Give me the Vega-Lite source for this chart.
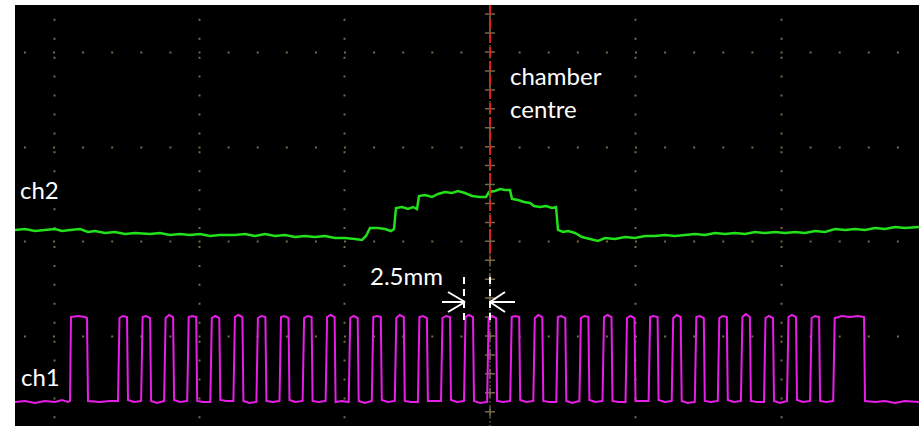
{
  "$schema": "https://vega.github.io/schema/vega-lite/v6.json",
  "autosize": {"type": "none"},
  "width": 904,
  "height": 421,
  "padding": {"left": 15, "top": 5, "right": 0, "bottom": 0},
  "background": "#ffffff",
  "config": {"view": {"fill": "#000000", "stroke": null}},
  "datasets": {
    "ch2": [
      {"x": -475, "v": 196}, {"x": -465, "v": 197}, {"x": -455, "v": 195}, {"x": -445, "v": 196}, {"x": -435, "v": 197}, {"x": -428, "v": 195}, {"x": -420, "v": 196}, {"x": -410, "v": 197}, {"x": -402, "v": 194}, {"x": -395, "v": 195}, {"x": -385, "v": 193}, {"x": -375, "v": 194}, {"x": -365, "v": 192}, {"x": -355, "v": 193}, {"x": -340, "v": 192}, {"x": -330, "v": 193}, {"x": -320, "v": 191}, {"x": -310, "v": 192}, {"x": -300, "v": 191}, {"x": -290, "v": 192}, {"x": -280, "v": 190}, {"x": -270, "v": 191}, {"x": -255, "v": 191}, {"x": -245, "v": 192}, {"x": -235, "v": 190}, {"x": -225, "v": 192}, {"x": -215, "v": 190}, {"x": -205, "v": 191}, {"x": -195, "v": 189}, {"x": -185, "v": 190}, {"x": -175, "v": 189}, {"x": -165, "v": 190}, {"x": -155, "v": 188}, {"x": -145, "v": 188}, {"x": -135, "v": 187}, {"x": -128, "v": 186}, {"x": -124, "v": 190}, {"x": -120, "v": 198}, {"x": -112, "v": 198}, {"x": -105, "v": 197}, {"x": -99, "v": 195}, {"x": -96, "v": 197}, {"x": -94, "v": 218}, {"x": -88, "v": 219}, {"x": -82, "v": 217}, {"x": -77, "v": 219}, {"x": -73, "v": 217}, {"x": -71, "v": 230}, {"x": -65, "v": 231}, {"x": -58, "v": 229}, {"x": -52, "v": 232}, {"x": -45, "v": 234}, {"x": -38, "v": 233}, {"x": -32, "v": 235}, {"x": -25, "v": 233}, {"x": -18, "v": 230}, {"x": -10, "v": 229}, {"x": -4, "v": 229}, {"x": -1, "v": 234}, {"x": 5, "v": 235}, {"x": 10, "v": 237}, {"x": 15, "v": 236}, {"x": 20, "v": 236}, {"x": 22, "v": 227}, {"x": 28, "v": 226}, {"x": 34, "v": 224}, {"x": 40, "v": 223}, {"x": 44, "v": 220}, {"x": 50, "v": 219}, {"x": 56, "v": 220}, {"x": 62, "v": 218}, {"x": 66, "v": 219}, {"x": 68, "v": 196}, {"x": 73, "v": 194}, {"x": 78, "v": 195}, {"x": 85, "v": 193}, {"x": 92, "v": 189}, {"x": 100, "v": 187}, {"x": 108, "v": 185}, {"x": 115, "v": 188}, {"x": 125, "v": 187}, {"x": 135, "v": 189}, {"x": 145, "v": 188}, {"x": 155, "v": 190}, {"x": 165, "v": 190}, {"x": 175, "v": 191}, {"x": 185, "v": 190}, {"x": 195, "v": 191}, {"x": 205, "v": 192}, {"x": 215, "v": 191}, {"x": 225, "v": 193}, {"x": 235, "v": 192}, {"x": 245, "v": 193}, {"x": 255, "v": 192}, {"x": 265, "v": 194}, {"x": 275, "v": 193}, {"x": 285, "v": 194}, {"x": 295, "v": 193}, {"x": 305, "v": 194}, {"x": 315, "v": 193}, {"x": 325, "v": 195}, {"x": 335, "v": 194}, {"x": 345, "v": 197}, {"x": 355, "v": 196}, {"x": 365, "v": 197}, {"x": 375, "v": 196}, {"x": 385, "v": 198}, {"x": 395, "v": 197}, {"x": 405, "v": 199}, {"x": 415, "v": 198}, {"x": 429, "v": 199}
    ],
    "ch1": [
      {"x": -475, "v": 24}, {"x": -465, "v": 25}, {"x": -455, "v": 23}, {"x": -445, "v": 25}, {"x": -435, "v": 24}, {"x": -428, "v": 26}, {"x": -422, "v": 24},
      {"x": -420, "v": 25}, {"x": -419, "v": 109}, {"x": -412, "v": 110}, {"x": -405, "v": 109}, {"x": -403, "v": 108}, {"x": -402, "v": 25}, {"x": -390, "v": 24}, {"x": -380, "v": 25},
      {"x": -372, "v": 25}, {"x": -370.5, "v": 108}, {"x": -367, "v": 110}, {"x": -363, "v": 109}, {"x": -362, "v": 26}, {"x": -356, "v": 24},
      {"x": -348.9, "v": 25}, {"x": -347.4, "v": 109}, {"x": -343.9, "v": 110}, {"x": -339.9, "v": 108}, {"x": -338.9, "v": 25}, {"x": -332.9, "v": 23},
      {"x": -325.9, "v": 25}, {"x": -324.4, "v": 108}, {"x": -320.9, "v": 111}, {"x": -316.9, "v": 109}, {"x": -315.9, "v": 26}, {"x": -309.9, "v": 24},
      {"x": -302.8, "v": 25}, {"x": -301.3, "v": 109}, {"x": -297.8, "v": 110}, {"x": -293.8, "v": 109}, {"x": -292.8, "v": 25}, {"x": -286.8, "v": 24},
      {"x": -279.7, "v": 24}, {"x": -278.2, "v": 108}, {"x": -274.7, "v": 110}, {"x": -270.7, "v": 108}, {"x": -269.7, "v": 26}, {"x": -263.7, "v": 25},
      {"x": -256.6, "v": 25}, {"x": -255.1, "v": 109}, {"x": -251.6, "v": 111}, {"x": -247.6, "v": 109}, {"x": -246.6, "v": 25}, {"x": -240.6, "v": 23},
      {"x": -233.6, "v": 24}, {"x": -232.1, "v": 108}, {"x": -228.6, "v": 110}, {"x": -224.6, "v": 109}, {"x": -223.6, "v": 25}, {"x": -217.6, "v": 24},
      {"x": -210.5, "v": 25}, {"x": -209, "v": 109}, {"x": -205.5, "v": 110}, {"x": -201.5, "v": 108}, {"x": -200.5, "v": 26}, {"x": -194.5, "v": 24},
      {"x": -187.4, "v": 25}, {"x": -185.9, "v": 108}, {"x": -182.4, "v": 110}, {"x": -178.4, "v": 109}, {"x": -177.4, "v": 25}, {"x": -171.4, "v": 24},
      {"x": -164.4, "v": 25}, {"x": -162.9, "v": 109}, {"x": -159.4, "v": 111}, {"x": -155.4, "v": 109}, {"x": -154.4, "v": 24}, {"x": -148.4, "v": 25},
      {"x": -141.3, "v": 24}, {"x": -139.8, "v": 108}, {"x": -136.3, "v": 110}, {"x": -132.3, "v": 108}, {"x": -131.3, "v": 25}, {"x": -125.3, "v": 23},
      {"x": -118.2, "v": 25}, {"x": -116.7, "v": 109}, {"x": -113.2, "v": 110}, {"x": -109.2, "v": 109}, {"x": -108.2, "v": 26}, {"x": -102.2, "v": 24},
      {"x": -95.2, "v": 25}, {"x": -93.7, "v": 108}, {"x": -90.2, "v": 111}, {"x": -86.2, "v": 109}, {"x": -85.2, "v": 25}, {"x": -79.2, "v": 24},
      {"x": -72.1, "v": 24}, {"x": -70.6, "v": 109}, {"x": -67.1, "v": 110}, {"x": -63.1, "v": 108}, {"x": -62.1, "v": 25}, {"x": -56.1, "v": 25},
      {"x": -49, "v": 25}, {"x": -47.5, "v": 108}, {"x": -44, "v": 110}, {"x": -40, "v": 109}, {"x": -39, "v": 26}, {"x": -33, "v": 24},
      {"x": -26, "v": 25}, {"x": -24.5, "v": 109}, {"x": -21, "v": 111}, {"x": -17, "v": 109}, {"x": -16, "v": 25}, {"x": -10, "v": 23},
      {"x": -2.9, "v": 24}, {"x": -1.4, "v": 108}, {"x": 2.1, "v": 110}, {"x": 6.1, "v": 108}, {"x": 7.1, "v": 25}, {"x": 13.1, "v": 24},
      {"x": 20.2, "v": 25}, {"x": 21.7, "v": 109}, {"x": 25.2, "v": 110}, {"x": 29.2, "v": 109}, {"x": 30.2, "v": 26}, {"x": 36.2, "v": 24},
      {"x": 43.3, "v": 25}, {"x": 44.8, "v": 108}, {"x": 48.3, "v": 111}, {"x": 52.3, "v": 109}, {"x": 53.3, "v": 25}, {"x": 59.3, "v": 24},
      {"x": 66.3, "v": 24}, {"x": 67.8, "v": 109}, {"x": 71.3, "v": 110}, {"x": 75.3, "v": 108}, {"x": 76.3, "v": 25}, {"x": 82.3, "v": 23},
      {"x": 89.4, "v": 25}, {"x": 90.9, "v": 108}, {"x": 94.4, "v": 110}, {"x": 98.4, "v": 109}, {"x": 99.4, "v": 26}, {"x": 105.4, "v": 24},
      {"x": 112.5, "v": 25}, {"x": 114, "v": 109}, {"x": 117.5, "v": 111}, {"x": 121.5, "v": 109}, {"x": 122.5, "v": 25}, {"x": 128.5, "v": 24},
      {"x": 135.5, "v": 24}, {"x": 137, "v": 108}, {"x": 140.5, "v": 110}, {"x": 144.5, "v": 108}, {"x": 145.5, "v": 25}, {"x": 151.5, "v": 25},
      {"x": 158.6, "v": 25}, {"x": 160.1, "v": 109}, {"x": 163.6, "v": 110}, {"x": 167.6, "v": 109}, {"x": 168.6, "v": 26}, {"x": 174.6, "v": 24},
      {"x": 181.7, "v": 25}, {"x": 183.2, "v": 108}, {"x": 186.7, "v": 111}, {"x": 190.7, "v": 109}, {"x": 191.7, "v": 25}, {"x": 197.7, "v": 23},
      {"x": 204.8, "v": 24}, {"x": 206.3, "v": 109}, {"x": 209.8, "v": 110}, {"x": 213.8, "v": 108}, {"x": 214.8, "v": 25}, {"x": 220.8, "v": 24},
      {"x": 227.8, "v": 25}, {"x": 229.3, "v": 108}, {"x": 232.8, "v": 110}, {"x": 236.8, "v": 109}, {"x": 237.8, "v": 26}, {"x": 243.8, "v": 24},
      {"x": 250.9, "v": 25}, {"x": 252.4, "v": 109}, {"x": 255.9, "v": 112}, {"x": 259.9, "v": 109}, {"x": 260.9, "v": 25}, {"x": 266.9, "v": 24},
      {"x": 274, "v": 24}, {"x": 275.5, "v": 108}, {"x": 279, "v": 110}, {"x": 283, "v": 108}, {"x": 284, "v": 25}, {"x": 290, "v": 23},
      {"x": 297, "v": 25}, {"x": 298.5, "v": 109}, {"x": 302, "v": 111}, {"x": 306, "v": 109}, {"x": 307, "v": 26}, {"x": 313, "v": 24},
      {"x": 320.1, "v": 25}, {"x": 321.6, "v": 108}, {"x": 325.1, "v": 110}, {"x": 329.1, "v": 109}, {"x": 330.1, "v": 25}, {"x": 336.1, "v": 24},
      {"x": 343.2, "v": 25}, {"x": 344.7, "v": 108}, {"x": 352, "v": 110}, {"x": 360, "v": 109}, {"x": 368, "v": 110}, {"x": 374, "v": 109}, {"x": 375, "v": 25},
      {"x": 385, "v": 24}, {"x": 395, "v": 25}, {"x": 405, "v": 23}, {"x": 415, "v": 25}, {"x": 429, "v": 24}
    ],
    "crosses": [
      {"x": 0, "v": 411.9}, {"x": 0, "v": 392.9}, {"x": 0, "v": 374}, {"x": 0, "v": 355.1}, {"x": 0, "v": 336.1}, {"x": 0, "v": 317.2}, {"x": 0, "v": 298.3}, {"x": 0, "v": 279.3}, {"x": 0, "v": 260.4}, {"x": 0, "v": 241.5}, {"x": 0, "v": 222.5}, {"x": 0, "v": 203.6}, {"x": 0, "v": 184.7}, {"x": 0, "v": 165.8}, {"x": 0, "v": 146.8}, {"x": 0, "v": 127.9}, {"x": 0, "v": 109}, {"x": 0, "v": 90}, {"x": 0, "v": 71.1}, {"x": 0, "v": 52.2}, {"x": 0, "v": 33.2}, {"x": 0, "v": 14.3}
    ],
    "markers": [
      {"x": -26, "v": 149, "v2": 104},
      {"x": 0, "v": 149, "v2": 104}
    ],
    "arrows": [
      {"x": -48, "v": 124, "x2": -25, "v2": 124},
      {"x": -42, "v": 134, "x2": -25, "v2": 124},
      {"x": -42, "v": 114, "x2": -25, "v2": 124},
      {"x": 0, "v": 124, "x2": 25, "v2": 124},
      {"x": 15, "v": 134, "x2": 0, "v2": 124},
      {"x": 15, "v": 114, "x2": 0, "v2": 124}
    ],
    "labels": [
      {"x": 20, "v": 341, "label": "chamber"},
      {"x": 20, "v": 308, "label": "centre"},
      {"x": -470, "v": 227, "label": "ch2"},
      {"x": -469, "v": 40, "label": "ch1"},
      {"x": -120, "v": 141, "label": "2.5mm"}
    ]
  },
  "encoding": {
    "x": {
      "field": "x", "type": "quantitative",
      "scale": {"domain": [-475, 429], "nice": false, "zero": false},
      "axis": {"orient": "top", "values": [-436.5, -291.5, -146, 145, 290.5], "labels": false, "ticks": false, "domain": false, "title": null, "grid": true, "gridColor": "#75694a", "gridWidth": 2, "gridOpacity": 1, "gridDash": [2, 16.93], "gridDashOffset": 10.79}
    },
    "y": {
      "field": "v", "type": "quantitative",
      "scale": {"domain": [0, 421], "nice": false, "zero": false},
      "axis": {"values": [374, 279.3, 184.7, 90], "labels": false, "ticks": false, "domain": false, "title": null, "grid": true, "gridColor": "#75694a", "gridWidth": 2, "gridOpacity": 1, "gridDash": [2, 27.1], "gridDashOffset": 20.7}
    }
  },
  "layer": [
    {
      "data": {"values": [{"x": 0, "v": 421, "v2": 0}]},
      "mark": {"type": "rule", "color": "#6a5f40", "strokeWidth": 1.5, "strokeDash": [1.5, 2.5]},
      "encoding": {"y2": {"field": "v2"}}
    },
    {
      "data": {"name": "crosses"},
      "mark": {"type": "point", "shape": "M-1,0H1M0,-1V1", "size": 100, "filled": false, "stroke": "#75694a", "strokeWidth": 1.5, "opacity": 1}
    },
    {
      "data": {"name": "ch2"},
      "mark": {"type": "line", "color": "#22e01a", "strokeWidth": 2.5}
    },
    {
      "data": {"name": "ch1"},
      "mark": {"type": "line", "color": "#e81ee8", "strokeWidth": 2}
    },
    {
      "data": {"values": [{"x": 0, "v": 421, "v2": 168}]},
      "mark": {"type": "rule", "color": "#e01e1e", "strokeWidth": 2, "strokeDash": [10, 4]},
      "encoding": {"y2": {"field": "v2"}}
    },
    {
      "data": {"name": "markers"},
      "mark": {"type": "rule", "color": "#ffffff", "strokeWidth": 2, "strokeDash": [7, 5]},
      "encoding": {"y2": {"field": "v2"}}
    },
    {
      "data": {"name": "arrows"},
      "mark": {"type": "rule", "color": "#ffffff", "strokeWidth": 2},
      "encoding": {"x2": {"field": "x2"}, "y2": {"field": "v2"}}
    },
    {
      "data": {"name": "labels"},
      "mark": {"type": "text", "color": "#ffffff", "font": "Lato", "fontSize": 24, "align": "left", "baseline": "alphabetic"},
      "encoding": {"text": {"field": "label"}}
    }
  ]
}
